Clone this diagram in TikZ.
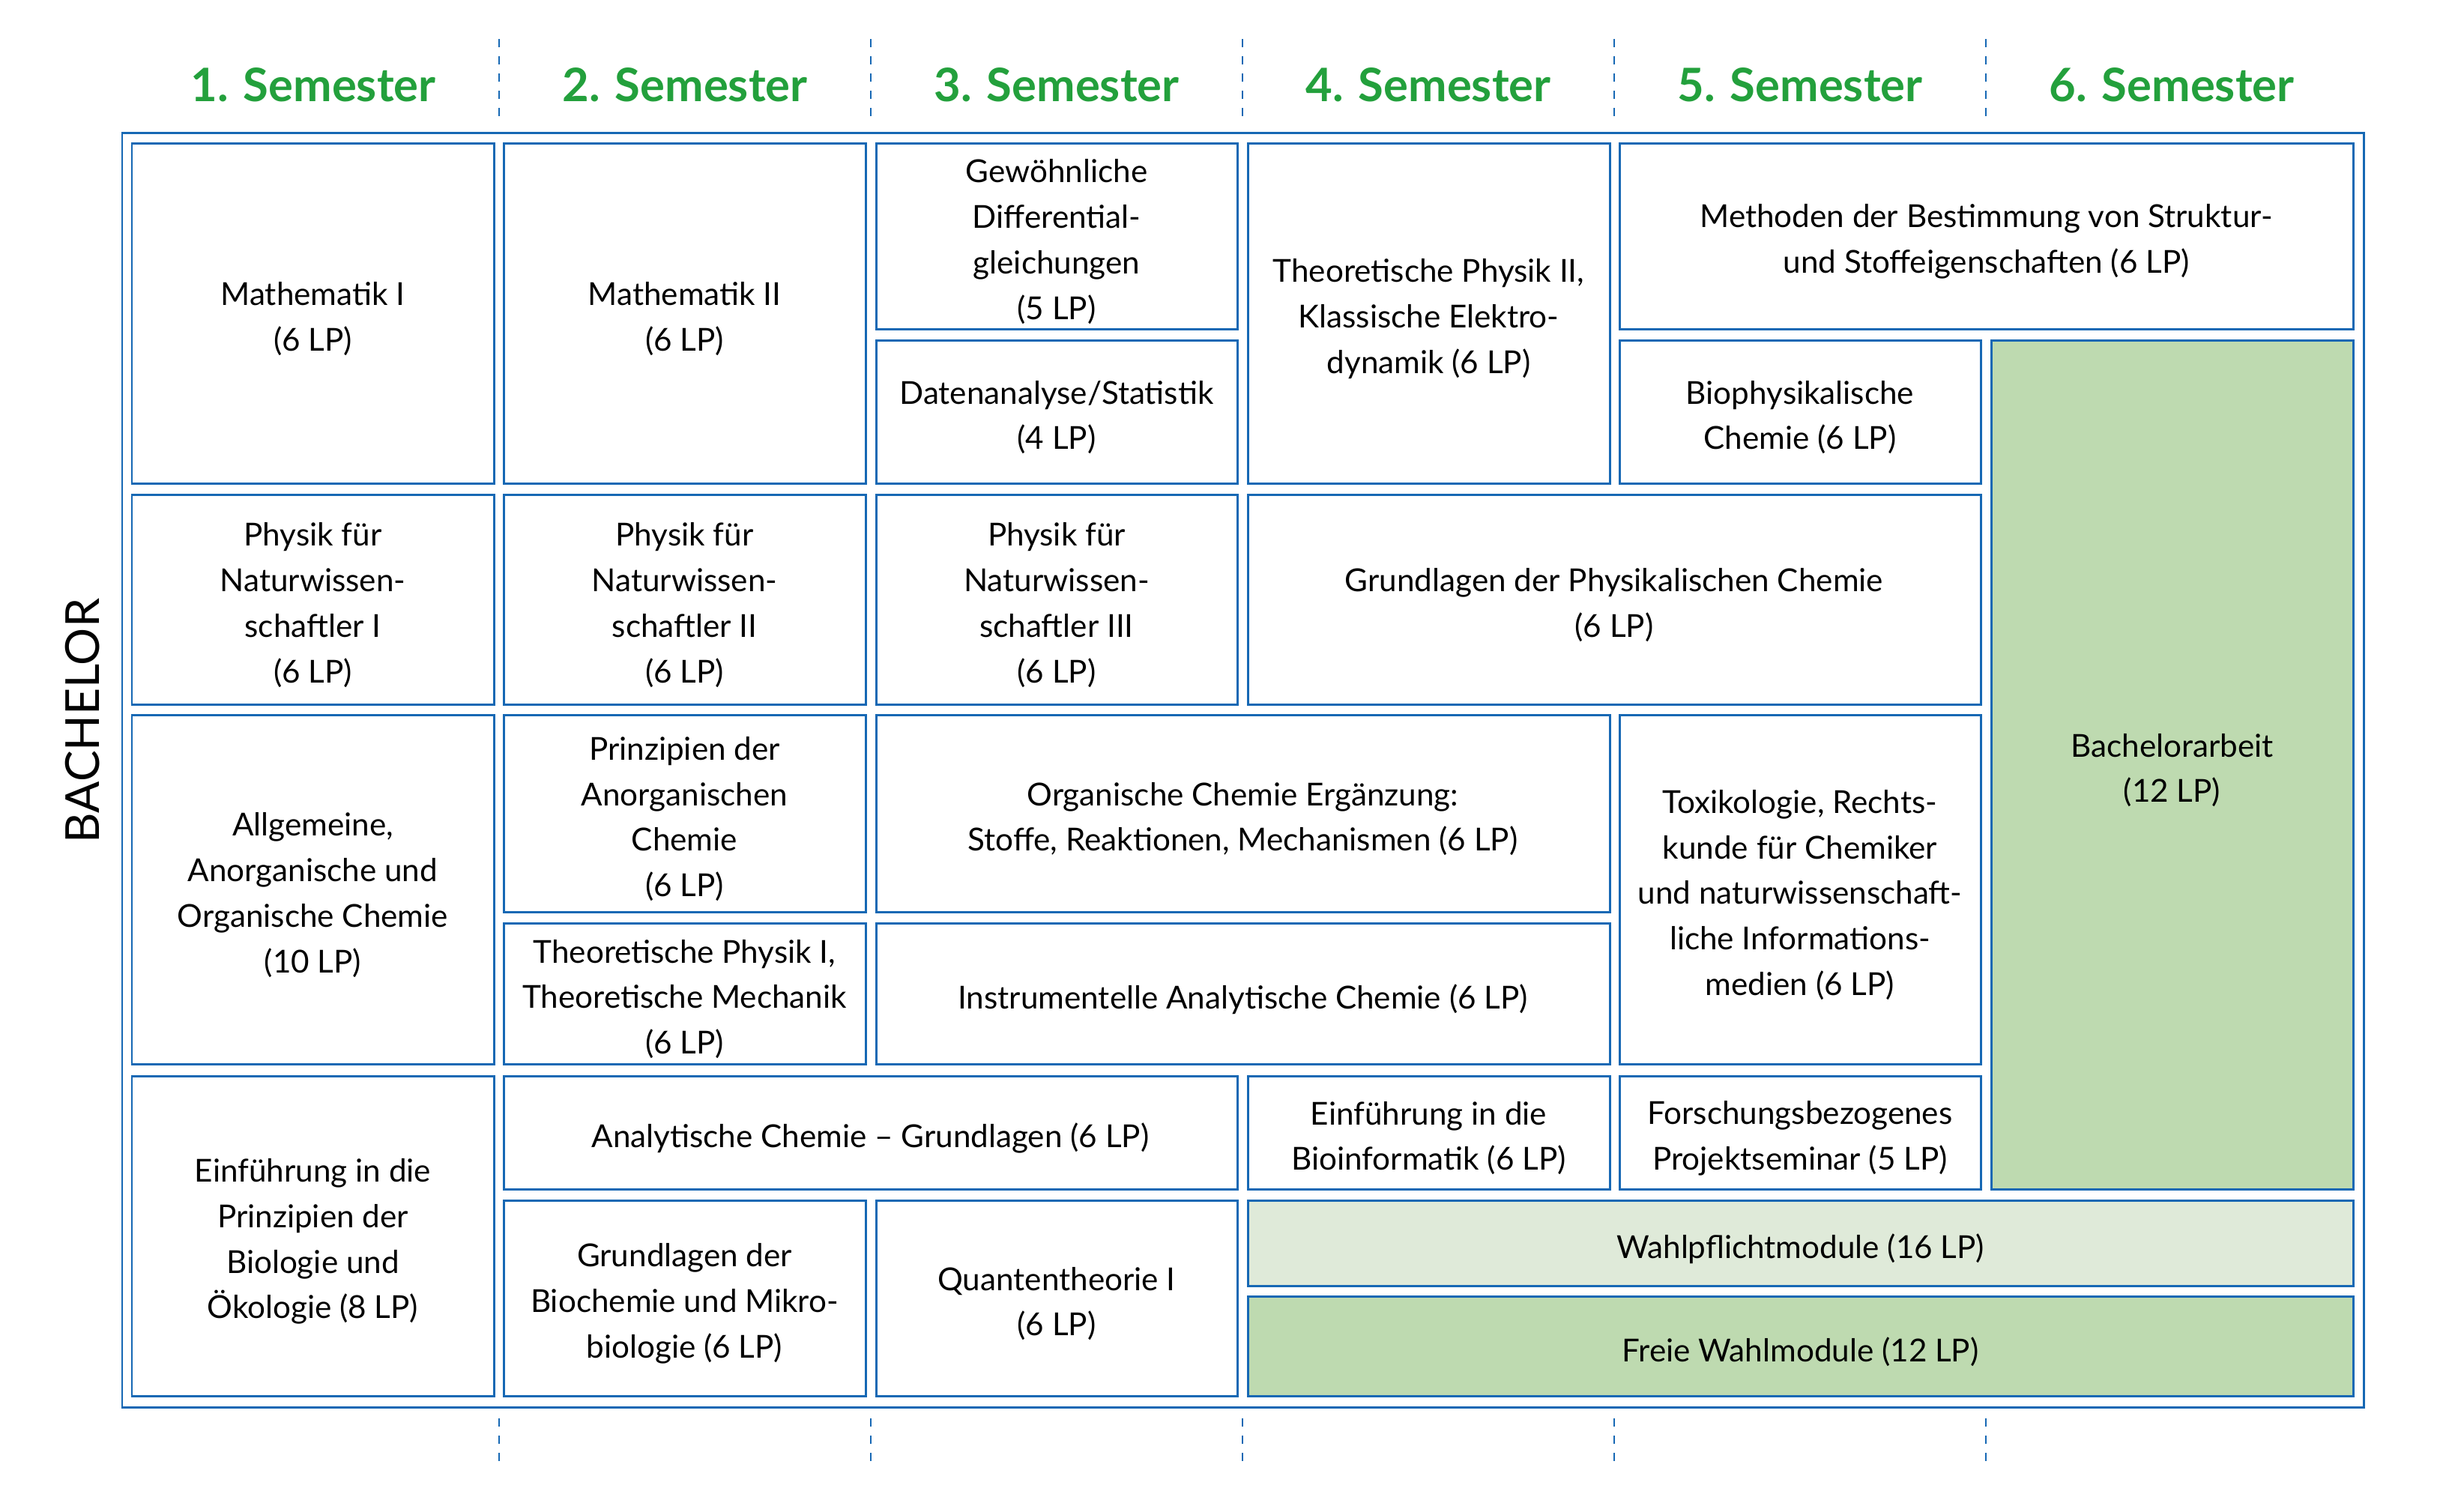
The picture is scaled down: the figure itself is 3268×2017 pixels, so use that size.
\documentclass[tikz,border=0pt]{standalone}
\usepackage{fontspec}
\setmainfont{Lato}
\definecolor{lineblue}{RGB}{22,104,180}
\definecolor{hdrgreen}{RGB}{35,160,60}
\definecolor{gfill}{RGB}{190,218,176}
\definecolor{lgfill}{RGB}{223,234,217}
\newcommand\modul[7][]{%
  \node[modbox,#1,
        minimum width={(#5-#3)*0.01cm},
        minimum height={(#6-#4)*0.01cm}]
    (#2) at ({(#3+#5)/2},{(#4+#6)/2}) {};
  \node[modtext] (#2-t) at ([yshift=-0.075cm]#2.center) {#7};}
\begin{document}
\begin{tikzpicture}[x=0.01cm,y=-0.01cm,
  modbox/.style={draw=lineblue, line width=0.85pt, fill=white, inner sep=0pt},
  modtext/.style={inner sep=0pt, align=center, font=\fontsize{12}{17.3}\selectfont},
  greenbox/.style={fill=gfill},
  lgreenbox/.style={fill=lgfill},
  hdr/.style={anchor=base, text=hdrgreen, font=\fontsize{17.5}{20}\selectfont\bfseries},
  sep/.style={draw=lineblue, line width=0.75pt, dash pattern=on 0.11cm off 0.12cm},
  frame/.style={draw=lineblue, line width=0.85pt, inner sep=0pt}]
\useasboundingbox (0,0) rectangle (3268,2017);

% semester headers
\node[hdr] (s1) at (418,135) {1. Semester};
\node[hdr] (s2) at (914,135) {2. Semester};
\node[hdr] (s3) at (1410,135) {3. Semester};
\node[hdr] (s4) at (1906,135) {4. Semester};
\node[hdr] (s5) at (2402,135) {5. Semester};
\node[hdr] (s6) at (2898,135) {6. Semester};

% dashed separators
\foreach \x in {666,1162,1658,2154,2650}{
  \draw[sep] (\x,52) -- (\x,166);
  \draw[sep] (\x,1893) -- (\x,1955);
}

% outer frame
\node[frame, minimum width={2991*0.01cm}, minimum height={1701*0.01cm}] (frame) at (1658.5,1027.5) {};

% BACHELOR label
\node[rotate=90, font=\fontsize{17.8}{20}\selectfont] (bach) at (110,962) {BACHELOR};

% row A
\modul{mat1}{176}{191}{659}{645}{Mathematik I\\(6 LP)}
\modul{mat2}{672}{191}{1155}{645}{Mathematik II\\(6 LP)}
\modul{gdgl}{1169}{191}{1651}{439}{Gewöhnliche\\Differential-\\gleichungen\\(5 LP)}
\modul{stat}{1169}{454}{1651}{645}{Datenanalyse/Statistik\\(4 LP)}
\modul{tp2}{1665}{191}{2148}{645}{Theoretische Physik II,\\Klassische Elektro-\\dynamik (6 LP)}
\modul{meth}{2161}{191}{3140}{439}{Methoden der Bestimmung von Struktur-\\und Stoffeigenschaften (6 LP)}
\modul{biop}{2161}{454}{2643}{645}{Biophysikalische\\Chemie (6 LP)}
\modul[greenbox]{ba}{2657}{454}{3140}{1587}{Bachelorarbeit\\(12 LP)}

% row B
\modul{ph1}{176}{660}{659}{940}{Physik für\\Naturwissen-\\schaftler I\\(6 LP)}
\modul{ph2}{672}{660}{1155}{940}{Physik für\\Naturwissen-\\schaftler II\\(6 LP)}
\modul{ph3}{1169}{660}{1651}{940}{Physik für\\Naturwissen-\\schaftler III\\(6 LP)}
\modul{gpc}{1665}{660}{2643}{940}{Grundlagen der Physikalischen Chemie\\(6 LP)}

% row C
\modul{aoc}{176}{954}{659}{1420}{Allgemeine,\\Anorganische und\\Organische Chemie\\(10 LP)}
\modul{pac}{672}{954}{1155}{1217}{Prinzipien der\\Anorganischen\\Chemie\\(6 LP)}
\modul{tp1}{672}{1232}{1155}{1420}{Theoretische Physik I,\\Theoretische Mechanik\\(6 LP)}
\modul{oce}{1169}{954}{2148}{1217}{Organische Chemie Ergänzung:\\Stoffe, Reaktionen, Mechanismen (6 LP)}
\modul{iac}{1169}{1232}{2148}{1420}{Instrumentelle Analytische Chemie (6 LP)}
\modul{tox}{2161}{954}{2643}{1420}{Toxikologie, Rechts-\\kunde für Chemiker\\und naturwissenschaft-\\liche Informations-\\medien (6 LP)}

% row D
\modul{bio}{176}{1436}{659}{1863}{Einführung in die\\Prinzipien der\\Biologie und\\Ökologie (8 LP)}
\modul{acg}{672}{1436}{1651}{1587}{Analytische Chemie -- Grundlagen (6 LP)}
\modul{binf}{1665}{1436}{2148}{1587}{Einführung in die\\Bioinformatik (6 LP)}
\modul{fps}{2161}{1436}{2643}{1587}{Forschungsbezogenes\\Projektseminar (5 LP)}
\modul{bchm}{672}{1602}{1155}{1863}{Grundlagen der\\Biochemie und Mikro-\\biologie (6 LP)}
\modul{qt}{1169}{1602}{1651}{1863}{Quantentheorie I\\(6 LP)}
\modul[lgreenbox]{wpm}{1665}{1602}{3140}{1716}{Wahlpflichtmodule (16 LP)}
\modul[greenbox]{fwm}{1665}{1730}{3140}{1863}{Freie Wahlmodule (12 LP)}
\end{tikzpicture}
\end{document}
